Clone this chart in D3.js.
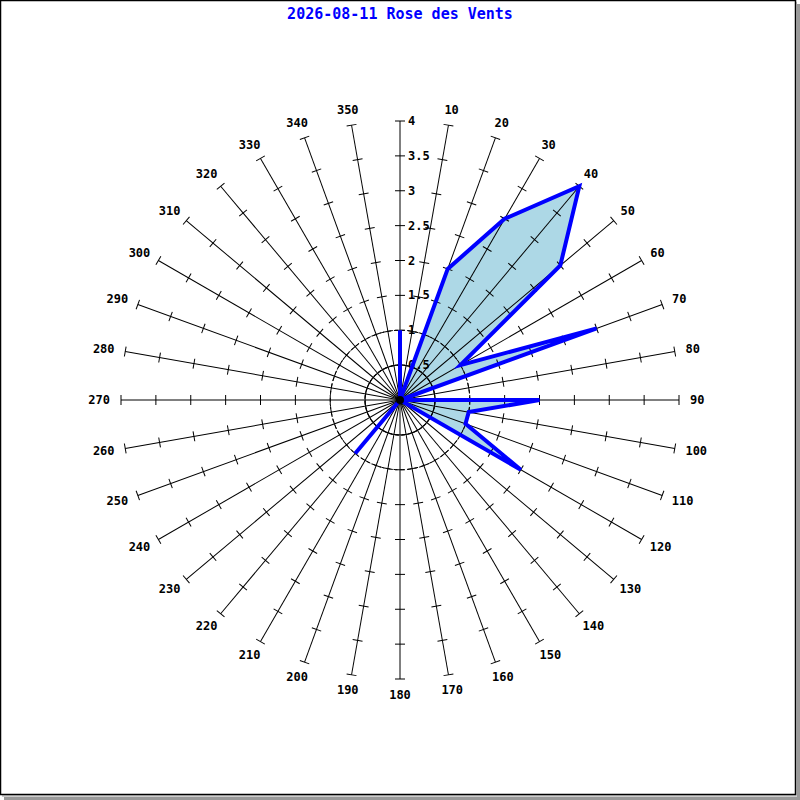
<!DOCTYPE html>
<html>
<head>
<meta charset="utf-8">
<script src="https://cdn.jsdelivr.net/npm/d3@7"></script>
<style>
  body { margin: 0; background: #fff; }
  svg text { font-family: "DejaVu Sans Mono", monospace; }
</style>
</head>
<body>
<svg id="chart" width="800" height="800"></svg>
<script>
// wind directions (degrees) and values
const directions = [0, 10, 20, 30, 40, 50, 60, 70, 80, 90, 100, 110, 120, 130, 140, 150, 160, 170,
  180, 190, 200, 210, 220, 230, 240, 250, 260, 270, 280, 290, 300, 310, 320, 330, 340, 350];
const values = [1, 0, 2, 3, 4, 3, 1, 3, 0, 2, 1, 1, 2, 0, 0, 0, 0, 0,
  0, 0, 0, 0, 1, 0, 0, 0, 0, 0, 0, 0, 0, 0, 0, 0, 0, 0];
const radialTicks = [0.5, 1, 1.5, 2, 2.5, 3, 3.5, 4];
const circleTicks = [0.5, 1];
const title = "2026-08-11 Rose des Vents";

const cx = 400, cy = 400;
const svg = d3.select("#chart");

// frame with shadow
svg.append("rect").attr("x", 4).attr("y", 4).attr("width", 796).attr("height", 796).attr("fill", "#999");
svg.append("rect").attr("x", 2).attr("y", 2).attr("width", 795).attr("height", 795).attr("fill", "#ccc");
svg.append("rect").attr("x", 0.5).attr("y", 0.5).attr("width", 795).attr("height", 794)
  .attr("fill", "#fff").attr("stroke", "#000").attr("stroke-width", 1.5);

svg.append("text")
  .attr("x", 400).attr("y", 19)
  .attr("text-anchor", "middle")
  .attr("fill", "#0000ff")
  .style("font-size", "15px")
  .style("font-weight", "600")
  .text(title);

const r = d3.scaleLinear().domain([0, 4]).range([0, 279]);
const g = svg.append("g").attr("transform", `translate(${cx},${cy})`);

const toRad = d => d * Math.PI / 180;

const radial = d3.lineRadial()
  .angle((d, i) => toRad(directions[i]))
  .radius(d => r(d))
  .curve(d3.curveLinearClosed);

// filled area first, grid on top, then outline
g.append("path")
  .datum(values)
  .attr("fill", "#add8e6")
  .attr("stroke", "none")
  .attr("d", radial);

// dashed circles
g.selectAll("circle.ring")
  .data(circleTicks)
  .join("circle")
  .attr("class", "ring")
  .attr("r", d => r(d))
  .attr("fill", "none")
  .attr("stroke", "#000")
  .attr("stroke-width", 1)
  .attr("stroke-dasharray", "4,3");

// spokes with ticks
const spokes = g.selectAll("g.spoke")
  .data(directions)
  .join("g")
  .attr("class", "spoke")
  .attr("transform", d => `rotate(${d})`);

spokes.append("line")
  .attr("x1", 0).attr("y1", 0)
  .attr("x2", 0).attr("y2", -r(4))
  .attr("stroke", "#000")
  .attr("stroke-width", 1);

spokes.selectAll("line.tick")
  .data(radialTicks)
  .join("line")
  .attr("class", "tick")
  .attr("x1", -5).attr("x2", 5)
  .attr("y1", d => -r(d)).attr("y2", d => -r(d))
  .attr("stroke", "#000")
  .attr("stroke-width", 1);

// direction labels (no label for north), pushed outward from an anchor ring
const labelR = 290, capH = 9;
g.selectAll("text.dir")
  .data(directions.filter(d => d !== 0))
  .join("text")
  .attr("class", "dir")
  .attr("text-anchor", "middle")
  .attr("dominant-baseline", "central")
  .style("font-size", "12px")
  .style("font-weight", "bold")
  .text(d => d)
  .each(function (d) {
    const w = this.getComputedTextLength();
    const s = Math.sin(toRad(d)), c = Math.cos(toRad(d));
    d3.select(this)
      .attr("x", s * labelR + s * w / 2)
      .attr("y", -c * labelR - c * capH / 2);
  });

// scale labels along north spoke
g.selectAll("text.scale")
  .data(radialTicks)
  .join("text")
  .attr("class", "scale")
  .attr("x", 8)
  .attr("y", d => -r(d))
  .attr("dominant-baseline", "central")
  .style("font-size", "12px")
  .style("font-weight", "bold")
  .text(d => d);

// outline
g.append("path")
  .datum(values)
  .attr("fill", "none")
  .attr("stroke", "#0000ff")
  .attr("stroke-width", 4)
  .attr("stroke-linejoin", "miter")
  .attr("d", radial);

// center dot
g.append("circle").attr("r", 4).attr("fill", "#000");
</script>
</body>
</html>
